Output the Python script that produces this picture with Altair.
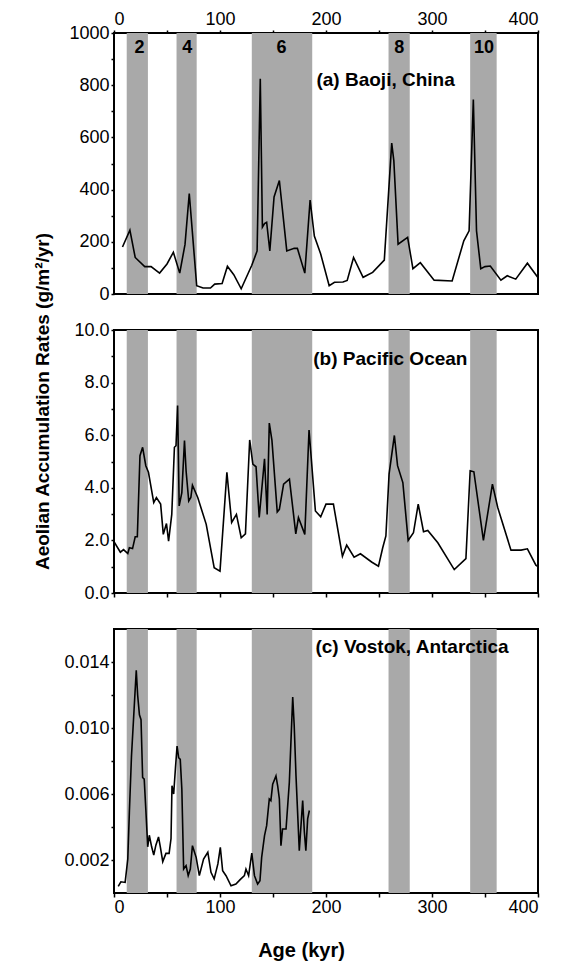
import altair as alt
import pandas as pd

# Glacial stage bands (kyr)
band_start = [12, 59, 130, 259, 336]
band_end = [32, 78, 187, 279, 361]
band_label = ["2", "4", "6", "8", "10"]
band_label_x = [24, 69, 158, 269, 349]

# (a) Baoji, China (g/m2/yr)
baoji_age = [8, 15, 20, 29, 35, 43, 50, 56, 62, 67, 71, 78, 84, 91, 95, 102, 107, 113, 120,
             130, 135, 138, 140, 142, 144, 147, 151, 156, 163, 170, 173, 180, 185, 189, 195,
             203, 208, 216, 220, 226, 235, 244, 255, 262, 264, 268, 277, 282, 289, 302, 319,
             330, 335, 339, 342, 346, 350, 355, 365, 371, 379, 390, 400, 405]
baoji_rate = [180, 245, 140, 105, 105, 80, 115, 160, 80, 190, 385, 32, 23, 23, 38, 40, 106, 74, 20,
              110, 165, 825, 256, 270, 275, 165, 372, 435, 165, 175, 175, 80, 360, 222, 153,
              32, 45, 46, 52, 140, 64, 83, 130, 578, 510, 191, 217, 97, 120, 53, 50,
              204, 242, 745, 242, 97, 105, 107, 53, 70, 57, 118, 63, 48]

# (b) Pacific Ocean
pacific_age = [0, 6, 9, 13, 14.5, 17.5, 20, 22, 24.5, 27, 30, 32.5, 37.5, 40, 44, 46.5, 49.5, 51.5,
               54.5, 57, 58.5, 60, 61.5, 64, 66.5, 68, 70.5, 72.5, 74, 79, 87, 94.5, 100, 106.5,
               111, 115.5, 120, 124, 128, 131, 134, 137, 142, 144.5, 146.5, 149, 154, 156, 160,
               165.5, 171.5, 174, 180, 184, 190, 195, 200, 207, 215.5, 219.5, 226.5, 232.5, 243,
               249.5, 253.5, 256.5, 259.5, 264.5, 267.5, 272.5, 277.5, 282.5, 287, 292, 296,
               305.5, 321, 332, 336, 339.5, 348.5, 357, 362, 374.5, 384, 390, 398, 400]
pacific_rate = [1.95, 1.55, 1.65, 1.5, 1.72, 1.69, 2.14, 2.14, 5.22, 5.54, 4.84, 4.59, 3.44, 3.63,
                3.38, 2.23, 2.64, 1.97, 2.99, 5.54, 5.6, 7.13, 3.31, 3.82, 5.8, 4.65, 3.5, 3.63,
                4.1, 3.63, 2.61, 0.96, 0.83, 4.59, 2.68, 2.99, 2.1, 2.25, 5.82, 4.9, 4.8, 2.87,
                5.1, 2.99, 6.46, 5.8, 3.08, 3.18, 4.14, 4.33, 2.25, 2.87, 2.23, 6.2, 3.12, 2.9,
                3.38, 3.38, 1.4, 1.82, 1.36, 1.49, 1.18, 1.02, 1.72, 2.17, 4.52, 5.99, 4.84, 4.2,
                2.0, 2.29, 3.38, 2.33, 2.38, 1.91, 0.89, 1.31, 4.65, 4.61, 2.0, 4.14, 3.25, 1.63,
                1.63, 1.68, 1.06, 1.0]

# (c) Vostok, Antarctica
vostok_age = [4, 6.5, 10.5, 13, 14.5, 16.5, 19, 21, 22.3, 24, 25.5, 27, 28.5, 30, 31.8, 33.3, 35.5,
              37.5, 39.5, 42, 43.7, 46, 49, 52, 53.8, 54.7, 56.3, 58, 59.5, 61, 62.5, 64, 65.7,
              68, 70, 72, 74, 77.5, 80.5, 84.5, 88.5, 91.5, 94.5, 98, 100.3, 102.5, 105.7, 110.4,
              115, 119, 123, 124.5, 127, 130, 132.5, 135.5, 137.7, 139.3, 142, 144, 146.5, 148,
              149.7, 152.8, 154.4, 156, 157.5, 159, 162.3, 165.4, 168.6, 170, 171.7, 174.8,
              176.4, 178, 179.6, 181, 182.7, 184.3]
vostok_rate = [0.0004, 0.00068, 0.00064, 0.00206, 0.0049, 0.0083, 0.0112, 0.0135, 0.012, 0.0108,
               0.0105, 0.0070, 0.0069, 0.0051, 0.0028, 0.0035, 0.0028, 0.0023, 0.0029, 0.0034,
               0.0028, 0.0019, 0.0024, 0.0024, 0.0033, 0.0065, 0.0060, 0.0076, 0.0089, 0.0082,
               0.0081, 0.0063, 0.00145, 0.00166, 0.00105, 0.00145, 0.00287, 0.00216, 0.00105,
               0.00206, 0.00247, 0.00125, 0.00085, 0.00176, 0.00277, 0.00135, 0.00105, 0.00044,
               0.00054, 0.00081, 0.00105, 0.00145, 0.00105, 0.00242, 0.00105, 0.00054, 0.00074,
               0.00216, 0.00348, 0.00408, 0.0057, 0.0056, 0.0066, 0.0071, 0.0065, 0.0057,
               0.00287, 0.00388, 0.00388, 0.0067, 0.01187, 0.01015, 0.0071, 0.00257, 0.00408,
               0.0056, 0.00368, 0.00257, 0.00449, 0.0050]

panel_titles = ["(a) Baoji, China", "(b) Pacific Ocean", "(c) Vostok, Antarctica"]
panel_title_x = [191, 188, 190]
panel_title_y = [820, 8.9, 0.0149]

y_title = "Aeolian Accumulation Rates (g/m²/yr)"
x_title = "Age (kyr)"

FONT = "Liberation Sans"
W = 424
SPACING = 36
BAND = "#a9a9a9"

bands = pd.DataFrame({"start": band_start, "end": band_end})
xscale = alt.Scale(domain=[0, 400], nice=False, zero=False)

common_axis = dict(grid=False, domain=False, labelFont=FONT, labelFontSize=18, labelColor="black",
                   tickColor="black", tickWidth=1.5, tickSize=3, labelPadding=2)


def panel(age, rate, ydomain, yvalues, ylabel_expr, yformat, xaxis, height, idx, ytitle_kw=None,
          extra=None):
    yscale = alt.Scale(domain=ydomain, nice=False, zero=False)
    ykw = dict(common_axis)
    ykw.update(values=yvalues, labelExpr=ylabel_expr, format=yformat)
    if ytitle_kw:
        ykw.update(ytitle_kw)
        ytitle = y_title
    else:
        ytitle = None
    yaxis = alt.Axis(**ykw)
    rect = alt.Chart(bands).mark_rect(color=BAND).encode(
        x=alt.X("start:Q", scale=xscale, axis=xaxis, title=x_title if idx == 2 else None),
        x2="end:Q",
        y=alt.value(0), y2=alt.value(height))
    df = pd.DataFrame({"age": age, "rate": rate})
    line = alt.Chart(df).mark_line(color="black", strokeWidth=1.6, clip=True).encode(
        x=alt.X("age:Q", scale=xscale, axis=xaxis, title=x_title if idx == 2 else None),
        y=alt.Y("rate:Q", scale=yscale, axis=yaxis, title=ytitle))
    tdf = pd.DataFrame({"x": [panel_title_x[idx]], "y": [panel_title_y[idx]],
                        "t": [panel_titles[idx]]})
    txt = alt.Chart(tdf).mark_text(font=FONT, fontSize=19, fontWeight="bold", align="left",
                                   baseline="middle", color="black").encode(
        x=alt.X("x:Q", scale=xscale, axis=xaxis, title=x_title if idx == 2 else None),
        y=alt.Y("y:Q", scale=yscale, axis=yaxis, title=ytitle),
        text="t:N")
    layers = [rect, line, txt]
    if extra is not None:
        ldf = pd.DataFrame({"x": band_label_x, "y": [extra] * len(band_label_x), "t": band_label})
        nums = alt.Chart(ldf).mark_text(font=FONT, fontSize=18, fontWeight="bold", align="center",
                                        baseline="middle", color="black").encode(
            x=alt.X("x:Q", scale=xscale, axis=xaxis, title=None),
            y=alt.Y("y:Q", scale=yscale, axis=yaxis, title=ytitle),
            text="t:N")
        layers.append(nums)
    return alt.layer(*layers).properties(width=W, height=height)


xticks = list(range(0, 401, 50))
lab100 = "datum.value % 100 === 0 ? datum.label : ''"

top_x = alt.Axis(orient="top", values=xticks, labelExpr=lab100, **common_axis)
mid_x = alt.Axis(orient="bottom", values=xticks, labels=False, **dict(common_axis, tickSize=4))
bot_x = alt.Axis(orient="bottom", values=xticks, labelExpr=lab100,
                 titleFont=FONT, titleFontSize=20, titleFontWeight="bold", titleColor="black",
                 titleX=187, titleY=57, titleBaseline="middle",
                 **dict(common_axis, tickSize=4, labelPadding=1))

top = panel(baoji_age, baoji_rate, [0, 1000], list(range(0, 1001, 100)),
            "datum.value % 200 === 0 ? datum.label : ''", "d", top_x, 261, 0, extra=942)
mid = panel(pacific_age, pacific_rate, [0, 10], list(range(0, 11)),
            "datum.value % 2 === 0 ? datum.label : ''", ".1f", mid_x, 263, 1,
            ytitle_kw=dict(titleFont=FONT, titleFontSize=19, titleFontWeight="bold",
                           titleColor="black", titleX=-72, titleY=71, titleBaseline="middle"))
bot = panel(vostok_age, vostok_rate, [0, 0.016],
            [0.002, 0.004, 0.006, 0.008, 0.010, 0.012, 0.014],
            "(datum.label == '0.002' || datum.label == '0.006' || datum.label == '0.010' || datum.label == '0.014') ? datum.label : ''",
            ".3f", bot_x, 264, 2)

chart = alt.vconcat(top, mid, bot, spacing=SPACING, bounds="flush").properties(
    padding={"left": 23, "top": 1, "right": 5, "bottom": 5},
    background="white",
).configure_view(stroke="black", strokeWidth=2)

chart.save("out.html", embed_options={"renderer": "svg", "actions": False})
